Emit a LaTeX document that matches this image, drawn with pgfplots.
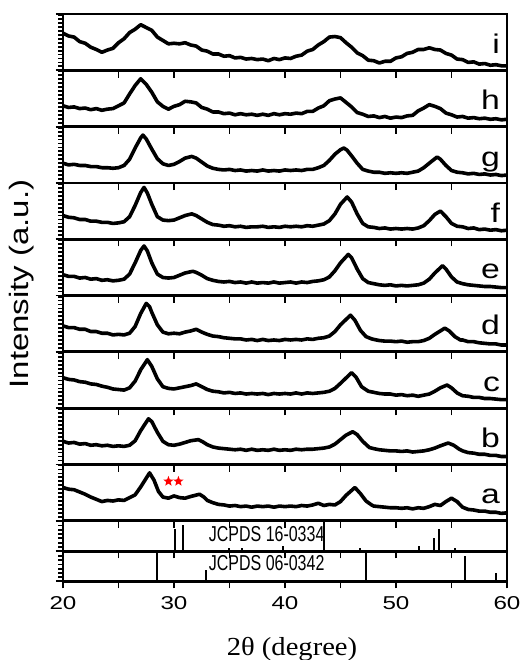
\documentclass[border=0pt]{standalone}
\usepackage{fontspec}
\setmainfont{Liberation Sans}
\newfontfamily\seriffont{Liberation Serif}
\usepackage{graphicx}
\usepackage{pgfplots}
\pgfplotsset{compat=1.18}

% filled five-point star for the red markers
\pgfdeclareplotmark{fstar}{%
  \pgfpathmoveto{\pgfpointpolar{90}{\pgfplotmarksize}}%
  \pgfpathlineto{\pgfpointpolar{126}{0.42\pgfplotmarksize}}%
  \pgfpathlineto{\pgfpointpolar{162}{\pgfplotmarksize}}%
  \pgfpathlineto{\pgfpointpolar{198}{0.42\pgfplotmarksize}}%
  \pgfpathlineto{\pgfpointpolar{234}{\pgfplotmarksize}}%
  \pgfpathlineto{\pgfpointpolar{270}{0.42\pgfplotmarksize}}%
  \pgfpathlineto{\pgfpointpolar{306}{\pgfplotmarksize}}%
  \pgfpathlineto{\pgfpointpolar{342}{0.42\pgfplotmarksize}}%
  \pgfpathlineto{\pgfpointpolar{18}{\pgfplotmarksize}}%
  \pgfpathlineto{\pgfpointpolar{54}{0.42\pgfplotmarksize}}%
  \pgfpathclose\pgfusepathqfill}

\newcommand\sx[1]{\scalebox{1.3}[1]{#1}}
\newcommand\tag[1]{\node[anchor=base east, inner sep=0pt, font=\fontsize{13.5}{15}\selectfont]
  at (rel axis cs:0.985,0.3) {\scalebox{1.25}[1]{#1}};}

\pgfplotsset{
  panel/.style={scale only axis, width=222pt, height=28.15pt,
    xmin=20, xmax=60, ymin=0, ymax=100,
    axis line style={line width=1.4pt},
    tick pos=left, tick align=outside,
    xtick={20,25,...,60}, xticklabels={},
    ytick={0,100}, yticklabels={}, minor ytick={7,14,...,98},
    major tick length=3.6pt, minor tick length=2.4pt,
    every tick/.style={black, line width=0.9pt},
    anchor=north west},
  trace/.style={black, line width=1.8pt, line join=round},
  refs/.style={panel, ymin=0, ymax=1, ytick={0,1}, minor ytick={0.14,0.28,0.42,0.56,0.7,0.84}},
  comb/.style={ycomb, black, line width=1pt},
}

\begin{document}
\begin{tikzpicture}
\useasboundingbox (-31.5pt,7pt) rectangle (231.5pt,-323pt);

% i
\begin{axis}[panel, at={(0pt,0pt)}]
\addplot[trace] coordinates {(20,66)(20.5,61)(21,59)(21.5,51)(22,48)(22.5,41)(23,37)(23.5,32)(24,36)(24.5,39)(25,49)(25.5,56)(26,67)(26.5,73)(27,81)(27.5,76)(28,71)(28.5,59)(29,53)(29.5,47)(30,48)(30.5,47)(31,49)(31.5,45)(32,43)(32.5,36)(33,34)(33.5,29)(34,29)(34.5,25)(35,26)(35.5,22)(36,23)(36.5,20)(37,21)(37.5,19)(38,20)(38.5,17)(39,21)(39.5,19)(40,22)(40.5,21)(41,25)(41.5,27)(42,34)(42.5,37)(43,45)(43.5,51)(44,59)(44.5,60)(45,58)(45.5,49)(46,41)(46.5,31)(47,26)(47.5,18)(48,17)(48.5,13)(49,16)(49.5,16)(50,22)(50.5,24)(51,30)(51.5,32)(52,37)(52.5,37)(53,40)(53.5,37)(54,36)(54.5,30)(55,27)(55.5,20)(56,19)(56.5,14)(57,15)(57.5,11)(58,12)(58.5,9)(59,10)(59.5,8)(60,8)};
\tag{i}
\end{axis}

% h
\begin{axis}[panel, at={(0pt,-28.15pt)}]
\addplot[trace] coordinates {(20,37)(20.5,34)(21,35)(21.5,32)(22,33)(22.5,30)(23,32)(23.5,29)(24,31)(24.5,32)(25,37)(25.5,42)(26,58)(26.5,73)(27,85)(27.5,75)(28,61)(28.5,44)(29,36)(29.5,31)(30,36)(30.5,39)(31,45)(31.5,44)(32,42)(32.5,34)(33,31)(33.5,26)(34,26)(34.5,23)(35,24)(35.5,21)(36,23)(36.5,21)(37,22)(37.5,20)(38,22)(38.5,20)(39,23)(39.5,21)(40,23)(40.5,22)(41,24)(41.5,23)(42,27)(42.5,27)(43,33)(43.5,37)(44,46)(44.5,49)(45,51)(45.5,43)(46,35)(46.5,25)(47,22)(47.5,18)(48,19)(48.5,16)(49,18)(49.5,15)(50,17)(50.5,16)(51,19)(51.5,20)(52,28)(52.5,33)(53,39)(53.5,36)(54,32)(54.5,24)(55,21)(55.5,17)(56,18)(56.5,15)(57,16)(57.5,14)(58,15)(58.5,13)(59,14)(59.5,12)(60,13)};
\tag{h}
\end{axis}

% g
\begin{axis}[panel, at={(0pt,-56.3pt)}]
\addplot[trace] coordinates {(20,35)(20.5,32)(21,33)(21.5,31)(22,31)(22.5,29)(23,29)(23.5,27)(24,27)(24.5,26)(25,27)(25.5,31)(26,42)(26.5,62)(27,80)(27.2,85)(27.5,78)(28,60)(28.5,43)(29,34)(29.5,31)(30,33)(30.5,38)(31,44)(31.6,47)(32,44)(32.5,37)(33,30)(33.5,26)(34,24)(34.5,23)(35,24)(35.5,22)(36,23)(36.5,21)(37,22)(37.5,21)(38,23)(38.5,21)(39,22)(39.5,21)(40,23)(40.5,22)(41,23)(41.5,22)(42,24)(42.5,24)(43,27)(43.5,31)(44,40)(44.5,51)(45,59)(45.3,62)(45.6,58)(46,48)(46.5,35)(47,24)(47.5,21)(48,19)(48.5,19)(49,17)(49.5,18)(50,17)(50.5,18)(51,17)(51.5,19)(52,21)(52.5,27)(53,35)(53.7,46)(54,42)(54.5,31)(55,22)(55.5,19)(56,18)(56.5,16)(57,17)(57.5,15)(58,16)(58.5,14)(59,15)(59.5,13)(60,14)};
\tag{g}
\end{axis}

% f
\begin{axis}[panel, at={(0pt,-84.45pt)}]
\addplot[trace] coordinates {(20,42)(20.5,39)(21,38)(21.5,35)(22,35)(22.5,32)(23,32)(23.5,30)(24,30)(24.5,28)(25,29)(25.5,31)(26,40)(26.5,60)(27,83)(27.3,92)(27.6,82)(28,62)(28.5,40)(29,34)(29.5,33)(30,34)(30.5,38)(31,42)(31.6,45)(32,42)(32.5,36)(33,30)(33.5,26)(34,25)(34.5,23)(35,24)(35.5,22)(36,23)(36.5,21)(37,22)(37.5,22)(38,23)(38.5,21)(39,22)(39.5,21)(40,23)(40.5,22)(41,23)(41.5,22)(42,24)(42.5,23)(43,25)(43.5,27)(44,33)(44.5,45)(45,62)(45.6,75)(46,66)(46.5,45)(47,28)(47.5,22)(48,21)(48.5,19)(49,20)(49.5,18)(50,19)(50.5,18)(51,19)(51.5,18)(52,20)(52.5,24)(53,33)(53.5,44)(54,50)(54.5,40)(55,28)(55.5,23)(56,22)(56.5,19)(57,20)(57.5,17)(58,18)(58.5,16)(59,17)(59.5,15)(60,16)};
\tag{f}
\end{axis}

% e
\begin{axis}[panel, at={(0pt,-112.6pt)}]
\addplot[trace] coordinates {(20,37)(20.5,34)(21,34)(21.5,31)(22,32)(22.5,29)(23,30)(23.5,27)(24,28)(24.5,26)(25,27)(25.5,29)(26,38)(26.5,58)(27,80)(27.3,88)(27.6,79)(28,58)(28.5,38)(29,32)(29.5,31)(30,32)(30.5,36)(31,40)(31.7,43)(32,41)(32.5,36)(33,30)(33.5,27)(34,25)(34.5,24)(35,25)(35.5,23)(36,24)(36.5,22)(37,24)(37.5,22)(38,23)(38.5,22)(39,24)(39.5,22)(40,23)(40.5,24)(41,22)(41.5,24)(42,23)(42.5,25)(43,26)(43.5,28)(44,33)(44.5,44)(45,58)(45.7,73)(46,67)(46.5,47)(47,30)(47.5,23)(48,21)(48.5,19)(49,18)(49.5,19)(50,17)(50.5,18)(51,17)(51.5,18)(52,19)(52.5,22)(53,29)(53.5,40)(54.2,53)(54.5,47)(55,33)(55.5,24)(56,21)(56.5,19)(57,18)(57.5,17)(58,16)(58.5,16)(59,15)(59.5,14)(60,14)};
\tag{e}
\end{axis}

% d
\begin{axis}[panel, at={(0pt,-140.75pt)}]
\addplot[trace] coordinates {(20,46)(20.5,43)(21,43)(21.5,40)(22,40)(22.5,36)(23,36)(23.5,33)(24,33)(24.5,30)(25,31)(25.5,30)(26,33)(26.5,45)(27,68)(27.5,86)(27.8,80)(28,70)(28.5,48)(29,35)(29.5,32)(30,33)(30.5,32)(31,35)(31.5,37)(32,40)(32.5,35)(33,31)(33.5,28)(34,27)(34.5,25)(35,24)(35.5,23)(36,23)(36.5,21)(37,22)(37.5,20)(38,22)(38.5,20)(39,21)(39.5,20)(40,22)(40.5,21)(41,22)(41.5,21)(42,23)(42.5,22)(43,24)(43.5,25)(44,28)(44.5,36)(45,48)(45.9,65)(46.3,56)(46.8,38)(47.3,27)(47.8,23)(48,22)(48.5,20)(49,19)(49.5,19)(50,18)(50.5,19)(51,17)(51.5,18)(52,18)(52.5,20)(53,24)(53.5,31)(54.4,42)(54.8,37)(55.3,27)(55.8,21)(56,21)(56.5,18)(57,18)(57.5,16)(58,15)(58.5,14)(59,14)(59.5,12)(60,12)};
\tag{d}
\end{axis}

% c
\begin{axis}[panel, at={(0pt,-168.9pt)}]
\addplot[trace] coordinates {(20,54)(20.5,51)(21,50)(21.5,47)(22,46)(22.5,43)(23,42)(23.5,39)(24,37)(24.5,34)(25,33)(25.5,32)(26,36)(26.5,48)(27,68)(27.6,86)(28,74)(28.5,52)(29,38)(29.5,35)(30,34)(30.5,36)(31,38)(31.5,40)(32,43)(32.5,38)(33,33)(33.5,30)(34,29)(34.5,27)(35,28)(35.5,26)(36,27)(36.5,25)(37,26)(37.5,25)(38,26)(38.5,24)(39,26)(39.5,25)(40,26)(40.5,25)(41,27)(41.5,25)(42,27)(42.5,26)(43,27)(43.5,28)(44,30)(44.5,35)(45,44)(46,63)(46.4,55)(46.9,38)(47.5,30)(48,28)(48.5,26)(49,25)(49.5,25)(50,23)(50.5,24)(51,22)(51.5,23)(52,21)(52.5,23)(53,25)(53.5,30)(54,36)(54.6,41)(55,36)(55.5,27)(56,22)(56.5,21)(57,19)(57.5,19)(58,17)(58.5,17)(59,16)(59.5,15)(60,15)};
\tag{c}
\end{axis}

% b
\begin{axis}[panel, at={(0pt,-197.05pt)}]
\addplot[trace] coordinates {(20,41)(20.5,38)(21,39)(21.5,36)(22,37)(22.5,34)(23,35)(23.5,33)(24,34)(24.5,32)(25,33)(25.5,32)(26,34)(26.5,42)(27,60)(27.7,81)(28,76)(28.5,57)(29,41)(29.5,35)(30,34)(30.5,36)(31,39)(31.5,42)(32.2,44)(32.6,40)(33,35)(33.5,31)(34,29)(34.5,28)(35,27)(35.5,26)(36,27)(36.5,25)(37,27)(37.5,25)(38,26)(38.5,25)(39,27)(39.5,25)(40,26)(40.5,25)(41,27)(41.5,26)(42,27)(42.5,27)(43,28)(43.5,29)(44,31)(44.5,36)(45,44)(45.5,52)(46.1,58)(46.5,53)(47,41)(47.6,30)(48,28)(48.5,26)(49,25)(49.5,24)(50,24)(50.5,23)(51,24)(51.5,22)(52,23)(52.5,24)(53,26)(53.5,29)(54,33)(54.7,38)(55.2,34)(55.7,27)(56,24)(56.5,21)(57,20)(57.5,18)(58,18)(58.5,16)(59,16)(59.5,14)(60,14)};
\tag{b}
\end{axis}

% a
\begin{axis}[panel, at={(0pt,-225.2pt)}]
\addplot[trace] coordinates {(20,59)(20.5,56)(21,55)(21.5,51)(22,47)(22.5,42)(23,38)(23.5,34)(24,36)(24.5,35)(25,37)(25.5,36)(26,41)(26.5,46)(27,60)(27.8,85)(28.2,72)(28.6,52)(29,42)(29.5,40)(30,44)(30.5,41)(31,40)(31.5,43)(32.3,47)(32.7,42)(33,36)(33.5,32)(34,29)(34.5,28)(35,26)(35.5,27)(36,25)(36.5,26)(37,24)(37.5,26)(38,25)(38.5,26)(39,24)(39.5,26)(40,25)(40.5,26)(41,25)(41.5,27)(42,26)(42.5,28)(43,31)(43.5,27)(44,29)(44.5,28)(45,34)(45.5,45)(46.3,59)(46.8,48)(47.3,35)(47.8,28)(48,26)(48.5,25)(49,24)(49.5,23)(50,23)(50.5,22)(51,23)(51.5,21)(52,23)(52.5,22)(53,25)(53.5,29)(54,27)(54.5,34)(55,40)(55.5,34)(56,24)(56.5,20)(57,19)(57.5,17)(58,17)(58.5,15)(59,15)(59.5,13)(60,14)};
\addplot[only marks, mark=fstar, mark size=2.7pt, color=red] coordinates {(29.5,70)(30.4,70)};
\tag{a}
\end{axis}

% JCPDS 16-0334
\begin{axis}[refs, height=15.25pt, at={(0pt,-253.35pt)}]
\addplot[comb] coordinates {(30.1,0.74)(30.85,0.86)(35.0,0.12)(36.1,0.12)(39.8,0.18)(43.5,1.0)(46.8,0.12)(52.1,0.16)(53.4,0.42)(53.9,0.72)(55.3,0.1)};
\node[font=\fontsize{10.8}{12}\selectfont, inner sep=0pt] at (axis cs:38.35,0.57) {\scalebox{0.74}[1]{JCPDS 16-0334}};
\end{axis}

% JCPDS 06-0342
\begin{axis}[refs, height=15pt, at={(0pt,-268.6pt)},
    xticklabels={\sx{20},,\sx{30},,\sx{40},,\sx{50},,\sx{60}},
    xticklabel style={font=\fontsize{9.3}{10}\selectfont, yshift=-0.5pt}]
\addplot[comb] coordinates {(28.5,1.0)(32.9,0.37)(47.3,1.0)(56.2,0.83)(59.0,0.28)};
\node[font=\fontsize{10.8}{12}\selectfont, inner sep=0pt] at (axis cs:38.35,0.59) {\scalebox{0.74}[1]{JCPDS 06-0342}};
\end{axis}

\node[rotate=90, font=\fontsize{13.3}{15}\selectfont] at (-20.5pt,-135pt) {\scalebox{1.24}[1]{Intensity (a.u.)}};
\node[font=\fontsize{13}{15}\selectfont\seriffont] at (114.5pt,-317.5pt) {\scalebox{1.1}[1]{2θ (degree)}};
\end{tikzpicture}
\end{document}
